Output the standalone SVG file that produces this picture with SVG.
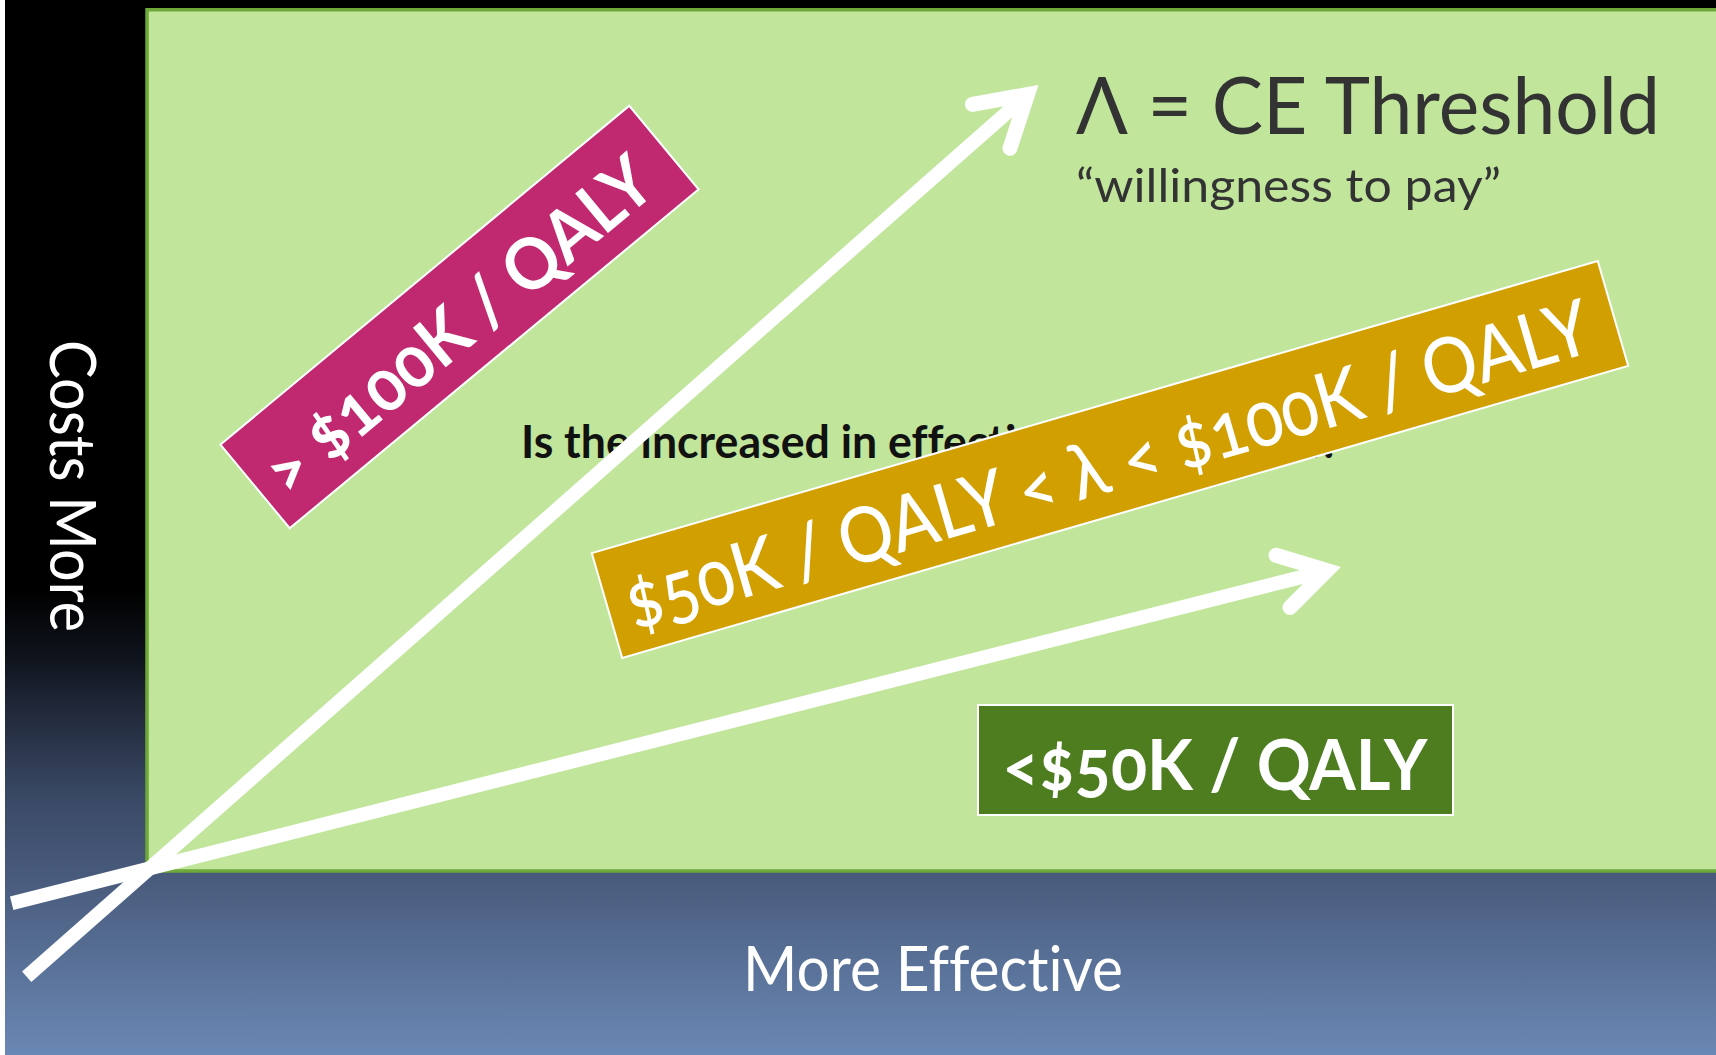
<svg xmlns="http://www.w3.org/2000/svg" width="1716" height="1055" viewBox="0 0 1716 1055">
  <defs>
    <!-- dark backdrop fading from black into slate blue -->
    <linearGradient id="backdrop" x1="0" y1="0" x2="0" y2="1055" gradientUnits="userSpaceOnUse">
      <stop offset="0" stop-color="#000000"/>
      <stop offset="0.56" stop-color="#000000"/>
      <stop offset="0.625" stop-color="#0f141d"/>
      <stop offset="0.664" stop-color="#1e2535"/>
      <stop offset="0.758" stop-color="#3a4a66"/>
      <stop offset="0.828" stop-color="#485a7b"/>
      <stop offset="1" stop-color="#6a88b4"/>
    </linearGradient>
  </defs>
  <style>
    .lbl { font-family: Lato, "Open Sans", "DejaVu Sans", sans-serif; font-variant-ligatures: none; }
    .axis { fill: #ffffff; font-weight: 400; }
    .dark { fill: #333333; font-weight: 400; }
    .band { stroke: #ffffff; stroke-width: 2; }
    .band-text { fill: #ffffff; font-variant-numeric: oldstyle-nums; }
    .arrow { fill: none; stroke: #ffffff; }
    .shaft { stroke-width: 14; stroke-linecap: butt; }
    .head { stroke-width: 15; stroke-linecap: round; stroke-linejoin: miter; stroke-miterlimit: 10; }
  </style>

  <!-- backdrop -->
  <rect x="0" y="0" width="1716" height="1055" fill="#ffffff"/>
  <rect x="5" y="0" width="1711" height="1055" fill="url(#backdrop)"/>

  <!-- cost-effectiveness plane -->
  <g id="plane">
    <rect x="147" y="9.75" width="1600" height="861.25" fill="#c0e59b" stroke="#6ea83a" stroke-width="3.5"/>
  </g>

  <!-- axis labels -->
  <g id="axis-y">
    <text class="lbl axis" transform="translate(50,486) rotate(90)" x="0" y="0" font-size="63" text-anchor="middle" textLength="292" lengthAdjust="spacingAndGlyphs">Costs More</text>
  </g>
  <g id="axis-x">
    <text class="lbl axis" x="933" y="991" font-size="62" text-anchor="middle" textLength="380" lengthAdjust="spacingAndGlyphs">More Effective</text>
  </g>

  <!-- threshold caption -->
  <g id="threshold">
    <text class="lbl dark" x="1076" y="133.5" font-size="80" textLength="584" lengthAdjust="spacingAndGlyphs">Λ = CE Threshold</text>
    <text class="lbl dark" x="1076" y="202" font-size="47" textLength="425" lengthAdjust="spacingAndGlyphs">“willingness to pay”</text>
  </g>

  <!-- central question -->
  <g id="question">
    <text class="lbl" x="521" y="458" font-size="45" font-weight="700" fill="#111111" textLength="819" lengthAdjust="spacingAndGlyphs">Is the increased in effectiveness worth it?</text>
  </g>

  <!-- ICER bands -->
  <g id="band-high" transform="translate(459.5,317) rotate(-39.65)">
    <rect class="band" x="-265.5" y="-54.3" width="531" height="108.6" fill="#c0296f"/>
    <text class="lbl band-text" x="-6" y="30" font-size="71" font-weight="700" text-anchor="middle" textLength="482" lengthAdjust="spacingAndGlyphs">&gt; $100K / QALY</text>
  </g>

  <g id="band-mid" transform="translate(1110,459.5) rotate(-16.19)">
    <rect class="band" x="-523.75" y="-54.6" width="1047.5" height="109.2" fill="#d19f00"/>
    <text class="lbl band-text" x="-4" y="31" font-size="77" font-weight="500" text-anchor="middle" textLength="1002" lengthAdjust="spacingAndGlyphs">$50K / QALY &lt; λ &lt; $100K / QALY</text>
  </g>

  <g id="band-low">
    <rect class="band" x="978" y="705" width="475" height="110" fill="#4e7d20"/>
    <text class="lbl band-text" x="1215" y="790" font-size="70" font-weight="700" text-anchor="middle" textLength="425" lengthAdjust="spacingAndGlyphs">&lt;$50K / QALY</text>
  </g>

  <!-- threshold rays -->
  <g id="connectors">
    <g id="ray-steep">
      <line class="arrow shaft" x1="26.7" y1="976.7" x2="1027.5" y2="94.5"/>
      <polyline class="arrow head" points="972.4,104.4 1027.5,94.5 1010,148.3"/>
    </g>
    <g id="ray-shallow">
      <line class="arrow shaft" x1="11.7" y1="903.3" x2="1326.8" y2="570.6"/>
      <polyline class="arrow head" points="1276,555.3 1326.8,570.6 1290,607.5"/>
    </g>
  </g>
</svg>
